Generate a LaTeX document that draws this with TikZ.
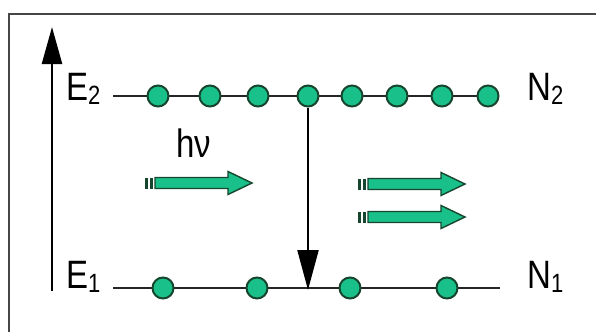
\documentclass[tikz,border=0pt]{standalone}
\usepackage{fontspec}
\setmainfont{Liberation Sans}
\usetikzlibrary{arrows.meta,backgrounds}
\definecolor{dotgreen}{RGB}{26,192,138}
\definecolor{dotedge}{RGB}{22,70,45}
\definecolor{framegray}{RGB}{70,70,70}
\newcommand{\lvsub}[1]{{\fontsize{22}{22}\selectfont\raisebox{-4pt}{#1}}}
\tikzset{
  level/.style={line width=2.2pt, draw=black!85},
  atom/.style={circle, fill=dotgreen, draw=dotedge, line width=2pt,
    minimum size=21pt, inner sep=0pt},
  lbl/.style={font=\fontsize{33}{36}\selectfont, inner sep=0pt, anchor=base west},
  photon/.pic={
    \fill[dotedge] (0,-5.5) rectangle (3,5.5);
    \fill[dotedge] (5,-5.5) rectangle (8,5.5);
    \draw[fill=dotgreen, draw=dotedge, line width=1.4pt, line join=miter]
      (10,-5.5) -- (83,-5.5) -- (83,-11.5) -- (107,0) -- (83,11.5)
      -- (83,5.5) -- (10,5.5) -- cycle;
  }
}
\begin{document}
\begin{tikzpicture}[x=1pt,y=-1pt]
\useasboundingbox (0,0) rectangle (596,332);
% frame (top and left edges)
\draw[framegray, line width=2pt] (9,332) -- (9,14) -- (596,14);

% energy axis
\coordinate (ax0) at (52,291);
\coordinate (ax1) at (52,27);
\draw[line width=2.4pt, -{Triangle[length=37pt,width=20pt]}] (ax0) -- (ax1);

% labels
\node[lbl] (E2) at (66,100) {\scalebox{1}[1.2]{E\lvsub{2}}};
\node[lbl] (E1) at (66,288) {\scalebox{1}[1.2]{E\lvsub{1}}};
\node[lbl] (N2) at (527,100) {\scalebox{1}[1.2]{N\lvsub{2}}};
\node[lbl] (N1) at (527,288) {\scalebox{1}[1.2]{N\lvsub{1}}};
\node[lbl] (hv) at (176,157) {\scalebox{1}[1.2]{hν}};

% upper level atoms
\foreach \i/\x in {1/158,2/210,3/258,4/308,5/352,6/397,7/442,8/488}
  \node[atom] (u\i) at (\x,96) {};
% lower level atoms
\foreach \i/\x in {1/163,2/257,3/350,4/447}
  \node[atom] (l\i) at (\x,288) {};

\coordinate (e2a) at (113,96);
\coordinate (e1a) at (113,288);
\coordinate (e1b) at (500,288);
\coordinate (drop) at (308,290);

\begin{scope}[on background layer]
  \draw[level] (e2a) -- (u8.center);
  \draw[level] (e1a) -- (e1b);
\end{scope}

% transition
\draw[line width=2.2pt, -{Triangle[length=40pt,width=21pt]}] (u4.south) -- (drop);

% photons
\pic at (145,183) {photon};
\pic at (358,184) {photon};
\pic at (358,217) {photon};
\end{tikzpicture}
\end{document}
